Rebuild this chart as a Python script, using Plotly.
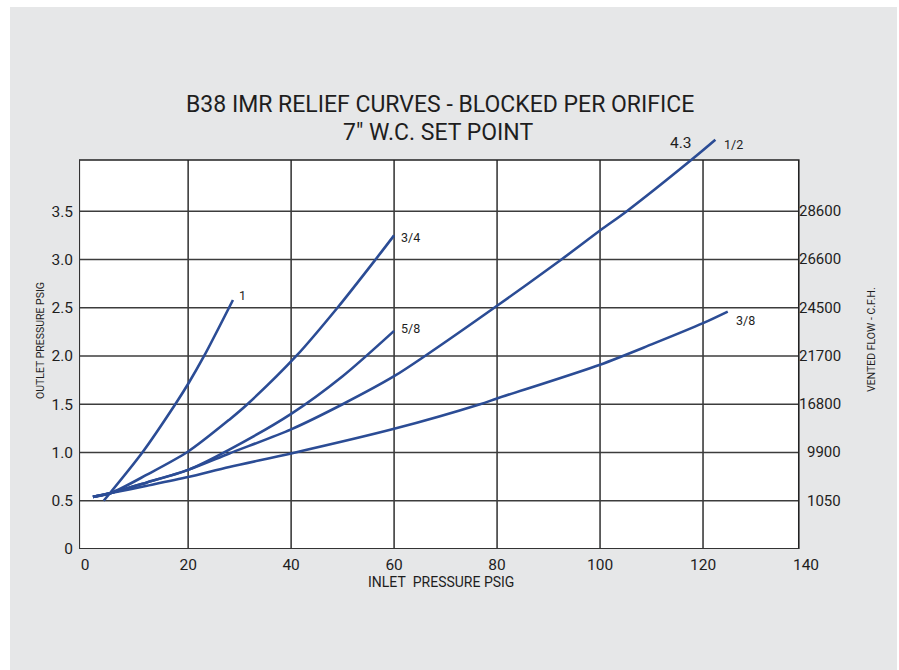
import plotly.graph_objects as go

# ---------------- data ----------------
x_ticks = [0, 20, 40, 60, 80, 100, 120, 140]
y_ticks = [0, 0.5, 1.0, 1.5, 2.0, 2.5, 3.0, 3.5]
y_tick_text = ["0", "0.5", "1.0", "1.5", "2.0", "2.5", "3.0", "3.5"]
flow_ticks = [0.5, 1.0, 1.5, 2.0, 2.5, 3.0, 3.5]
flow_text = ["1050", "9900", "16800", "21700", "24500", "26600", "28600"]

orifice_names = ["1", "3/4", "5/8", "1/2", "3/8"]

x_1 = [3.6, 11.1, 17.5, 20.1, 23.1, 28.7]
y_1 = [0.50, 1.00, 1.50, 1.72, 2.00, 2.58]

x_34 = [1.5, 5.0, 12.0, 20.0, 28.0, 31.5, 41.0, 49.0, 56.4, 60.0]
y_34 = [0.54, 0.58, 0.77, 1.01, 1.34, 1.50, 2.00, 2.50, 3.00, 3.25]

x_58 = [1.5, 5.0, 12.0, 20.0, 28.0, 40.0, 50.0, 60.0]
y_58 = [0.54, 0.58, 0.69, 0.82, 1.03, 1.40, 1.79, 2.26]

x_12 = [1.5, 5.0, 12.0, 20.0, 28.0, 40.0, 50.0, 60.0, 66.0, 80.0, 92.5, 100.0, 105.2, 117.7, 122.4]
y_12 = [0.54, 0.58, 0.69, 0.82, 0.99, 1.24, 1.50, 1.79, 2.00, 2.52, 3.00, 3.30, 3.50, 4.03, 4.24]

x_38 = [1.5, 5.0, 12.0, 20.0, 28.0, 40.0, 60.0, 76.7, 80.0, 100.0, 110.0, 120.0, 124.8]
y_38 = [0.54, 0.58, 0.655, 0.745, 0.85, 0.99, 1.245, 1.50, 1.56, 1.91, 2.12, 2.34, 2.46]

label_x = [29.5, 61.0, 61.0, 123.7, 126.1]
label_y = [2.63, 3.23, 2.28, 4.19, 2.37]
peak_text = "4.3"
peak_x, peak_y = 118.3, 4.21

# ---------------- style ----------------
FONT = "Roboto, sans-serif"
BLUE = "#2b4c95"
GRID = "#3c3c3c"
BG = "#e6e7e8"
TXT = "#1e1e1e"

W, H = 899, 670
L, R, T, B = 79, 93, 134, 121
PW, PH = W - L - R, H - T - B
X0, X1 = -1.2, 140.0          # axis range (grid in the original is hand drawn)
FRAME_R = 138.6
FRAME_T = 4.03


def px_to_paper_x(px):
    return (px - L) / PW


def px_to_paper_y(py):
    return (H - B - py) / PH


fig = go.Figure()

series = [(x_1, y_1), (x_34, y_34), (x_58, y_58), (x_12, y_12), (x_38, y_38)]
for name, (xs, ys) in zip(orifice_names, series):
    fig.add_trace(go.Scatter(
        x=xs, y=ys, mode="lines", name=name,
        line=dict(color=BLUE, width=2.6, shape="spline", smoothing=0.8),
        hoverinfo="skip", showlegend=False, cliponaxis=False,
    ))

shapes = []
# grey panel
shapes.append(dict(type="rect", xref="paper", yref="paper",
                   x0=px_to_paper_x(10), x1=px_to_paper_x(897),
                   y0=px_to_paper_y(670), y1=px_to_paper_y(7),
                   fillcolor=BG, line=dict(width=0), layer="below"))
# white plotting box
shapes.append(dict(type="rect", xref="x", yref="y", x0=X0, x1=FRAME_R, y0=0, y1=FRAME_T,
                   fillcolor="white", line=dict(width=0), layer="below"))
for xv in x_ticks[1:-1]:
    shapes.append(dict(type="line", xref="x", yref="y", x0=xv, x1=xv, y0=0, y1=FRAME_T,
                       line=dict(color=GRID, width=1.6), layer="below"))
for yv in y_ticks[1:]:
    shapes.append(dict(type="line", xref="x", yref="y", x0=X0, x1=FRAME_R, y0=yv, y1=yv,
                       line=dict(color=GRID, width=1.6), layer="below"))
shapes.append(dict(type="rect", xref="x", yref="y", x0=X0, x1=FRAME_R, y0=0, y1=FRAME_T,
                   line=dict(color="#222222", width=1.6), layer="below"))
shapes.append(dict(type="line", xref="x", yref="y", x0=X0, x1=X0, y0=0, y1=FRAME_T,
                   line=dict(color="#333333", width=2.2), layer="below"))
shapes.append(dict(type="line", xref="x", yref="y", x0=X0, x1=FRAME_R, y0=0, y1=0,
                   line=dict(color="#333333", width=2.2), layer="below"))

ann = []
ann.append(dict(text="B38 IMR RELIEF CURVES - BLOCKED PER ORIFICE", xref="paper", yref="paper",
                x=px_to_paper_x(439.5), y=px_to_paper_y(104), xanchor="center", yanchor="middle",
                showarrow=False, font=dict(family=FONT, size=23, color=TXT)))
ann.append(dict(text="7\" W.C. SET POINT", xref="paper", yref="paper",
                x=px_to_paper_x(438), y=px_to_paper_y(133), xanchor="center", yanchor="middle",
                showarrow=False, font=dict(family=FONT, size=23, color=TXT)))
ann.append(dict(text="INLET\u00a0 PRESSURE PSIG", xref="paper", yref="paper",
                x=px_to_paper_x(441), y=px_to_paper_y(582), xanchor="center", yanchor="middle",
                showarrow=False, font=dict(family=FONT, size=14, color=TXT)))
ann.append(dict(text="OUTLET PRESSURE PSIG", xref="paper", yref="paper", textangle=-90,
                x=px_to_paper_x(40), y=px_to_paper_y(341), xanchor="center", yanchor="middle",
                showarrow=False, font=dict(family=FONT, size=10.5, color=TXT)))
ann.append(dict(text="VENTED FLOW - C.F.H.", xref="paper", yref="paper", textangle=-90,
                x=px_to_paper_x(871), y=px_to_paper_y(340), xanchor="center", yanchor="middle",
                showarrow=False, font=dict(family=FONT, size=10.5, color=TXT)))
for v, t in zip(flow_ticks, flow_text):
    ann.append(dict(text=t, xref="paper", yref="y", x=px_to_paper_x(843), y=v,
                    xanchor="right", yanchor="middle", showarrow=False,
                    font=dict(family=FONT, size=15, color=TXT)))
for name, lx, ly in zip(orifice_names, label_x, label_y):
    ann.append(dict(text=name, xref="x", yref="y", x=lx, y=ly, xanchor="left", yanchor="middle",
                    showarrow=False, font=dict(family=FONT, size=12.5, color=TXT)))
ann.append(dict(text=peak_text, xref="x", yref="y", x=peak_x, y=peak_y, xanchor="right",
                yanchor="middle", showarrow=False, font=dict(family=FONT, size=15.5, color=TXT)))

fig.update_layout(
    width=W, height=H,
    margin=dict(l=L, r=R, t=T, b=B, pad=0),
    paper_bgcolor="white", plot_bgcolor="rgba(0,0,0,0)",
    shapes=shapes, annotations=ann, showlegend=False,
    font=dict(family=FONT, color=TXT),
    xaxis=dict(range=[X0, X1], tickvals=x_ticks, ticktext=[str(v) for v in x_ticks],
               showgrid=False, zeroline=False, showline=False, ticks="",
               tickfont=dict(family=FONT, size=15.5, color=TXT), ticklabelstandoff=4,
               fixedrange=True),
    yaxis=dict(range=[0, 4.3], tickvals=y_ticks, ticktext=y_tick_text,
               showgrid=False, zeroline=False, showline=False, ticks="",
               tickfont=dict(family=FONT, size=15.5, color=TXT), ticklabelstandoff=5,
               fixedrange=True),
)

fig.write_html(
    "out.html",
    config={"displayModeBar": False},
    post_script="document.body.style.margin='0px';document.body.style.overflow='hidden';",
)
